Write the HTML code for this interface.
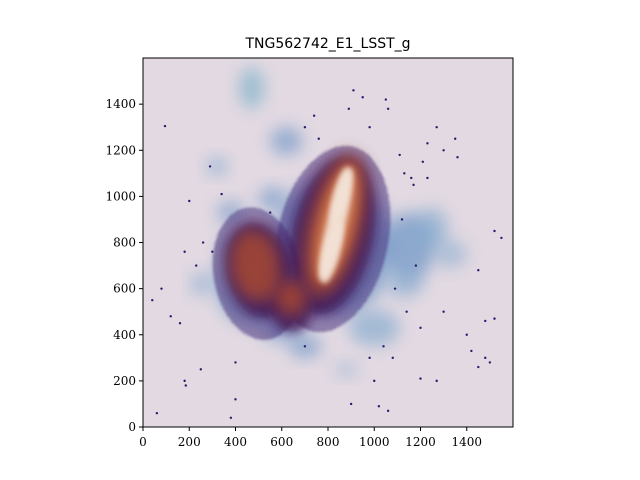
<!DOCTYPE html>
<html><head><meta charset="utf-8"><style>
body{margin:0;background:#fff;width:640px;height:480px;overflow:hidden}
svg{display:block;font-family:"DejaVu Serif","Liberation Serif",serif}
</style></head><body>
<svg id="c" width="640" height="480">
<defs>
<filter id="b8" x="-50%" y="-50%" width="200%" height="200%"><feGaussianBlur stdDeviation="8"/></filter>
<filter id="b5" x="-50%" y="-50%" width="200%" height="200%"><feGaussianBlur stdDeviation="5"/></filter>
<filter id="b3" x="-50%" y="-50%" width="200%" height="200%"><feGaussianBlur stdDeviation="3"/></filter>
<filter id="b2" x="-50%" y="-50%" width="200%" height="200%"><feGaussianBlur stdDeviation="1.2"/></filter>
<pattern id="dots" width="4" height="4" patternUnits="userSpaceOnUse"><rect width="4" height="4" fill="#6a4c9c" opacity="0.35"/><circle cx="1" cy="1" r="1.1" fill="#2e1460"/><circle cx="3" cy="3" r="1" fill="#3b1a70"/></pattern>
<clipPath id="clip"><rect x="143" y="58" width="370" height="369"/></clipPath>
</defs>
<text x="328" y="48" text-anchor="middle" font-size="14" font-family="DejaVu Sans,sans-serif">TNG562742_E1_LSST_g</text>
<rect x="143" y="58" width="370" height="369" fill="#e2d9e2"/>
<g id="marks" clip-path="url(#clip)"></g>
<rect x="143" y="58" width="370" height="369" fill="none" stroke="#000" stroke-width="1"/>
<g id="axes" font-size="12"></g>
</svg>
<script>
// blue halo blobs in data units
const haloX=[820,470,1150,470,620,1250,700,320,420,1000,560,1330,880,250,380,880,600,1130];
const haloY=[780,640,780,1470,1240,860,350,1130,780,430,990,750,1080,620,930,250,430,620];
const haloRX=[260,160,110,55,70,70,70,45,80,110,60,70,90,40,60,50,90,80];
const haloRY=[300,200,150,90,60,90,50,40,70,80,50,60,70,50,50,35,60,60];
const haloOp=[0.7,0.75,0.65,0.8,0.6,0.6,0.6,0.6,0.65,0.6,0.6,0.5,0.5,0.6,0.55,0.4,0.6,0.55];
// purple speckled envelopes
const purpX=[820,495];
const purpY=[815,665];
const purpRX=[240,190];
const purpRY=[410,290];
// dark purple inner
const dpX=[820,500,640];
const dpY=[830,680,520];
const dpRX=[175,140,90];
const dpRY=[350,210,110];
// orange body blobs
const orX=[830,485,640];
const orY=[875,700,560];
const orRX=[120,110,70];
const orRY=[320,160,80];
// bright streak
const brX=[835,815,855];
const brY=[880,760,1000];
const brRX=[40,36,32];
const brRY=[250,140,130];
// outlier dots
const dotX=[95,60,180,185,380,400,80,1060,1200,1270,1450,1420,1480,1500,1520,1400,1300,1450,1550,1170,1130,1210,1300,1350,1270,1050,950,1060,980,1110,1160,1230,340,290,200,180,160,250,400,700,740,890,910,1000,550,1020,1230,1200,1480,1520,1080,900,1360,120,40,1120,1180,1090,300,260,230,1140,1040,980,700,760];
const dotY=[1305,60,200,180,40,120,600,70,210,200,260,330,300,280,470,400,500,680,820,1050,1100,1150,1200,1250,1300,1420,1430,1380,1300,1180,1080,1230,1010,1130,980,760,450,250,280,350,1350,1380,1460,200,930,90,1080,430,460,850,300,100,1170,480,550,900,700,600,760,800,700,500,350,300,1300,1250];
const sx=v=>143+v*0.23125, sy=v=>427-v*0.2306;
const g=document.getElementById('marks');
const NS='http://www.w3.org/2000/svg';
function ell(x,y,rx,ry,fill,op,filt,rot,name){
 const e=document.createElementNS(NS,'ellipse');
 e.setAttribute('cx',sx(x));e.setAttribute('cy',sy(y));
 e.setAttribute('rx',rx*0.23125);e.setAttribute('ry',ry*0.2306);
 e.setAttribute('fill',fill);e.setAttribute('opacity',op);
 if(filt)e.setAttribute('filter','url(#'+filt+')');
 e.setAttribute('transform','rotate('+rot+' '+sx(x)+' '+sy(y)+')');
 
 
 g.appendChild(e);
}
haloX.forEach((x,i)=>ell(x,haloY[i],haloRX[i],haloRY[i],i==3?'#8db8cc':(i%2?'#7aa6cc':'#6390c4'),haloOp[i],'b8',0,'halo-blob'));
purpX.forEach((x,i)=>ell(x,purpY[i],purpRX[i],purpRY[i],'url(#dots)',0.85,'b2',i==0?12:-10,'speckled-envelope'));
dpX.forEach((x,i)=>ell(x,dpY[i],dpRX[i],dpRY[i],'#3c1558',0.85,'b5',i==0?12:-10,'envelope-core'));
orX.forEach((x,i)=>ell(x,orY[i],orRX[i],orRY[i],'#a84a30',0.85,'b8',i==0?14:-10,'body-blob'));
ell(835,880,75,260,'#dd8452',0.75,'b5',14,'inner-glow');
brX.forEach((x,i)=>ell(x,brY[i],brRX[i],brRY[i],'#f3e2d6',0.9,'b3',14,'bright-streak'));
dotX.forEach((x,i)=>{
 const c=document.createElementNS(NS,'circle');
 c.setAttribute('cx',sx(x));c.setAttribute('cy',sy(dotY[i]));c.setAttribute('r',1.2);
 c.setAttribute('fill','#2a1a6e');
 
 
 g.appendChild(c);
});
const ticks=[0,200,400,600,800,1000,1200,1400];
const ax=document.getElementById('axes');
ticks.forEach(t=>{
 const l=document.createElementNS(NS,'line');
 l.setAttribute('x1',sx(t));l.setAttribute('x2',sx(t));l.setAttribute('y1',427);l.setAttribute('y2',431);l.setAttribute('stroke','#000');
 
 
 ax.appendChild(l);
 const tx=document.createElementNS(NS,'text');
 tx.setAttribute('x',sx(t));tx.setAttribute('y',446);tx.setAttribute('text-anchor','middle');tx.textContent=t;
 
 
 ax.appendChild(tx);
 const l2=document.createElementNS(NS,'line');
 l2.setAttribute('x1',139);l2.setAttribute('x2',143);l2.setAttribute('y1',sy(t));l2.setAttribute('y2',sy(t));l2.setAttribute('stroke','#000');
 
 
 ax.appendChild(l2);
 const ty=document.createElementNS(NS,'text');
 ty.setAttribute('x',136);ty.setAttribute('y',sy(t)+4);ty.setAttribute('text-anchor','end');ty.textContent=t;
 
 
 ax.appendChild(ty);
});
</script>
</body></html>
